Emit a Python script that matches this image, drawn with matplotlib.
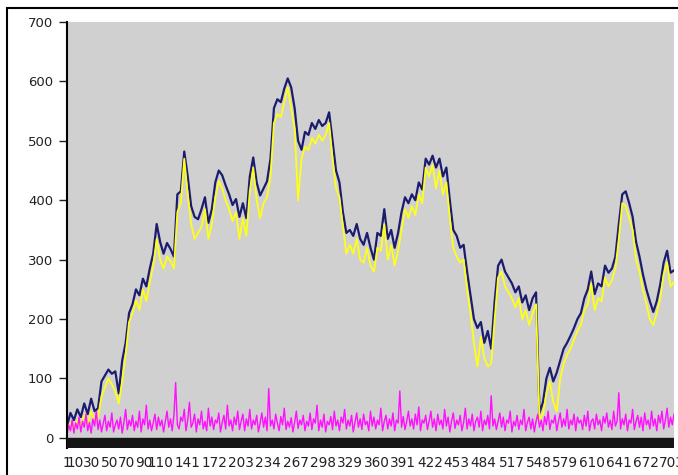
import matplotlib
matplotlib.use("Agg")
import matplotlib.pyplot as plt
from matplotlib.patches import Rectangle
import numpy as np

# sampled every 4 steps, x runs 1..705
high = [20, 42, 30, 48, 35, 58, 40, 66, 45, 50,
        95, 105, 115, 108, 112, 75, 130, 160, 210, 225,
        250, 240, 268, 255, 285, 310, 360, 330, 310, 328,
        318, 305, 410, 415, 482, 440, 390, 372, 368, 385,
        405, 362, 385, 430, 450, 442, 425, 410, 392, 402,
        372, 395, 370, 440, 472, 430, 408, 420, 432, 470,
        555, 570, 565, 588, 605, 590, 555, 500, 485, 515,
        510, 530, 520, 535, 525, 530, 548, 500, 450, 430,
        380, 345, 350, 340, 360, 335, 325, 345, 320, 300,
        345, 340, 385, 335, 350, 320, 345, 380, 405, 395,
        410, 400, 430, 418, 470, 460, 475, 455, 470, 440,
        455, 400, 350, 340, 320, 325, 280, 240, 200, 185,
        195, 160, 180, 150, 230, 290, 300, 280, 270, 260,
        245, 255, 228, 240, 215, 235, 245, 42, 60, 100,
        118, 95, 110, 130, 150, 160, 172, 185, 200, 210,
        235, 250, 280, 242, 260, 255, 290, 278, 285, 305,
        360, 410, 415, 395, 372, 330, 305, 275, 250, 230,
        212, 230, 258, 295, 315, 278, 282]

low = [15, 25, 12, 30, 20, 38, 22, 45, 28, 35,
       70, 85, 100, 90, 78, 58, 95, 140, 195, 210,
       232, 215, 250, 230, 262, 290, 335, 300, 285, 305,
       298, 285, 380, 395, 470, 410, 360, 335, 345, 355,
       385, 335, 360, 405, 432, 420, 400, 385, 365, 380,
       335, 370, 340, 415, 455, 400, 370, 395, 405, 440,
       530, 545, 540, 565, 590, 555, 520, 400, 470, 490,
       485, 505, 495, 510, 500, 510, 530, 470, 420, 405,
       355, 310, 325, 310, 335, 300, 295, 320, 290, 280,
       320, 315, 360, 300, 325, 290, 315, 350, 385, 370,
       390, 375, 410, 395, 455, 440, 460, 420, 450, 410,
       430, 370, 320, 305, 295, 300, 250, 210, 160, 120,
       170, 135, 120, 125, 200, 270, 280, 255, 245, 235,
       220, 235, 200, 215, 190, 210, 225, 30, 40, 75,
       95, 60, 45, 100, 125, 140, 150, 165, 180, 190,
       215, 225, 260, 215, 235, 230, 270, 255, 265, 285,
       335, 395, 390, 370, 350, 300, 280, 250, 225, 200,
       190, 210, 235, 275, 295, 255, 262]

# sampled every 2 steps, x runs 1..705
spread = [5, 22, 12, 30, 8, 25, 15, 35, 10, 28,
          18, 40, 12, 26, 8, 32, 20, 45, 14, 30,
          10, 24, 38, 12, 28, 18, 42, 10, 22, 30,
          15, 35, 8, 26, 48, 14, 30, 20, 38, 12,
          28, 18, 45, 10, 32, 22, 55, 15, 30, 12,
          25, 40, 14, 35, 20, 30, 10, 28, 45, 18,
          32, 12, 38, 93, 22, 15, 35, 28, 48, 12,
          30, 60, 18, 25, 40, 10, 32, 22, 45, 15,
          28, 12, 50, 20, 35, 14, 30, 25, 42, 10,
          26, 38, 15, 55, 20, 30, 12, 35, 22, 45,
          14, 28, 40, 12, 32, 20, 48, 15, 30, 22,
          38, 10, 25, 42, 18, 35, 12, 83, 20, 30,
          15, 40, 25, 12, 36, 22, 50, 14, 28, 18,
          34, 10, 26, 45, 16, 30, 22, 38, 12, 28,
          20, 42, 14, 32, 25, 55, 12, 30, 18, 40,
          10, 28, 22, 36, 14, 45, 20, 30, 12, 35,
          25, 48, 15, 30, 20, 38, 10, 26, 42, 18,
          32, 14, 40, 22, 28, 12, 45, 20, 35, 15,
          30, 22, 50, 12, 28, 38, 15, 32, 20, 42,
          12, 30, 25, 79, 18, 36, 14, 28, 45, 20,
          32, 15, 40, 22, 52, 12, 30, 25, 38, 14,
          28, 45, 18, 32, 12, 40, 22, 30, 15, 48,
          20, 35, 10, 28, 42, 16, 30, 22, 38, 12,
          26, 50, 15, 32, 20, 40, 12, 28, 35, 18,
          45, 12, 30, 22, 38, 15, 71, 20, 32, 14,
          28, 42, 18, 35, 12, 30, 25, 45, 10, 28,
          20, 38, 14, 30, 22, 48, 12, 26, 35, 15,
          32, 10, 28, 40, 18, 30, 12, 36, 22, 45,
          14, 30, 25, 38, 12, 28, 42, 18, 32, 20,
          48, 15, 30, 22, 40, 12, 35, 25, 30, 14,
          38, 20, 45, 12, 28, 32, 15, 40, 22, 30,
          12, 36, 25, 42, 18, 30, 14, 45, 20, 28,
          76, 15, 32, 22, 40, 12, 30, 25, 48, 14,
          28, 38, 18, 35, 12, 42, 22, 30, 15, 45,
          20, 32, 12, 38, 25, 45, 15, 30, 50, 18,
          35, 22, 40]

xticks = [1, 10, 30, 50, 70, 90, 110, 141, 172, 203, 234, 267, 298, 329,
          360, 391, 422, 453, 484, 517, 548, 579, 610, 641, 672, 703]

x = np.arange(1, 1 + 4 * len(high), 4)
x2 = np.arange(1, 1 + 2 * len(spread), 2)

fig = plt.figure(figsize=(6.78, 4.75), dpi=100)
ax = fig.add_axes([67 / 678, 27 / 475, 607 / 678, 426 / 475])
ax.set_facecolor("#d0d0d0")

ax.plot(x, high, color="#1c1c6e", lw=1.6)
ax.plot(x, low, color="#ffff1a", lw=1.3)
ax.plot(x2, spread, color="#ff10ff", lw=1.0)

# dark base strip under zero
ax.axhspan(-17, 0, color="#151515", zorder=3)

ax.set_xlim(1, 705)
ax.set_ylim(-17, 700)
ax.set_yticks(range(0, 701, 100))
ax.set_xticks(xticks)
ax.set_xticklabels([str(v) for v in xticks])

for s in ["top", "right", "bottom"]:
    ax.spines[s].set_visible(False)
ax.spines["left"].set_linewidth(1.5)
ax.tick_params(axis="y", length=6, width=1, colors="#222222", labelsize=9.5, pad=4)
ax.tick_params(axis="x", length=0, colors="#222222", labelsize=9.8, pad=6)

# outer frame
fig.patches.append(Rectangle((7 / 678, -0.1), 1.2, (475 - 8) / 475 + 0.1,
                             transform=fig.transFigure, fill=False,
                             edgecolor="black", lw=1.5))

fig.savefig("out.png", dpi=100)
